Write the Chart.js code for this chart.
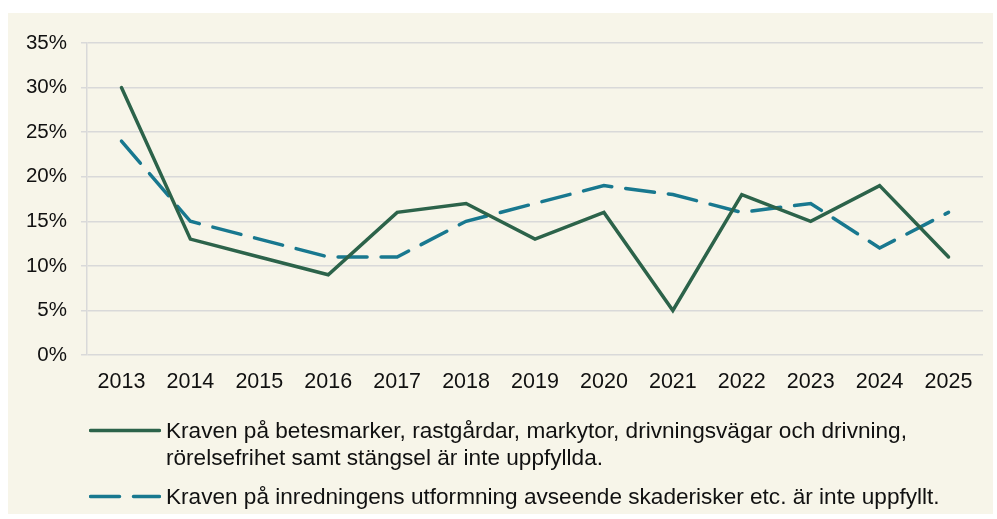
<!DOCTYPE html>
<html><head><meta charset="utf-8">
<script src="https://cdn.jsdelivr.net/npm/chart.js@4/dist/chart.umd.min.js"></script>
<style>
html,body{margin:0;padding:0;background:#fff;}
#wrap{position:absolute;left:8px;top:13px;width:985px;height:501px;background:#F7F5E9;}
#c{position:absolute;left:0;top:0;}
#legend{position:absolute;left:81px;top:404px;font-family:"Liberation Sans",Arial,sans-serif;font-size:22.6px;color:#111;line-height:27px;white-space:nowrap;}
.row{display:flex;align-items:flex-start;}
.row svg{flex:none;margin-right:5px;}
</style></head>
<body>
<div id="wrap"><canvas id="c" width="985" height="501"></canvas>
<div id="legend">
<div class="row"><svg width="72" height="27"><line x1="1.5" y1="13.5" x2="70.5" y2="13.5" stroke="#2C634A" stroke-width="3.5" stroke-linecap="round"/></svg><span id="l1"></span></div>
<div class="row" style="margin-top:12px"><svg width="72" height="27"><line x1="1.5" y1="13.5" x2="70.5" y2="13.5" stroke="#18788F" stroke-width="3.5" stroke-linecap="round" stroke-dasharray="29 14"/></svg><span id="l2"></span></div>
</div></div>
<script>
const years = ["2013","2014","2015","2016","2017","2018","2019","2020","2021","2022","2023","2024","2025"];
const betesmarker = [30,13,11,9,16,17,13,16,5,18,15,19,11];
const inredning = [24,15,13,11,11,15,17,19,18,16,17,12,16];
const label1 = ["Kraven på betesmarker, rastgårdar, markytor, drivningsvägar och drivning,","rörelsefrihet samt stängsel är inte uppfyllda."];
const label2 = "Kraven på inredningens utformning avseende skaderisker etc. är inte uppfyllt.";
const yTicks = [0,5,10,15,20,25,30,35];

document.getElementById('l1').innerHTML = label1.join('<br>');
document.getElementById('l2').textContent = label2;

const font = {family:'"Liberation Sans", Arial, sans-serif', size:21.5};
const yFont = {family:'"Liberation Sans", Arial, sans-serif', size:20.5};
new Chart(document.getElementById('c'), {
  type:'line',
  data:{labels:years, datasets:[
    {label:label1.join(' '), data:betesmarker, borderColor:'#2C634A', borderWidth:3.5, pointRadius:0, tension:0, borderCapStyle:'round', borderJoinStyle:'miter'},
    {label:label2, data:inredning, borderColor:'#18788F', borderWidth:3.5, pointRadius:0, tension:0, borderDash:[29,14], borderCapStyle:'round'}
  ]},
  options:{
    responsive:false, animation:false,
    layout:{padding:{top:30,right:10,bottom:119,left:0}},
    plugins:{legend:{display:false}, tooltip:{enabled:false}},
    scales:{
      x:{offset:true, grid:{display:false, drawTicks:false}, border:{display:false},
         ticks:{font:font, color:'#111', padding:14, maxRotation:0},
         afterFit(s){s.height=40;}},
      y:{min:0,max:35, afterBuildTicks(s){s.ticks=yTicks.map(v=>({value:v}));},
         grid:{color:'#D9D9D9', lineWidth:1.5, tickLength:6},
         border:{display:true,color:'#D9D9D9',width:1.5},
         ticks:{font:yFont,color:'#111',padding:14,callback:v=>v+'%'},
         afterFit(s){s.width=79;}}
    }
  }
});
</script>
</body></html>
